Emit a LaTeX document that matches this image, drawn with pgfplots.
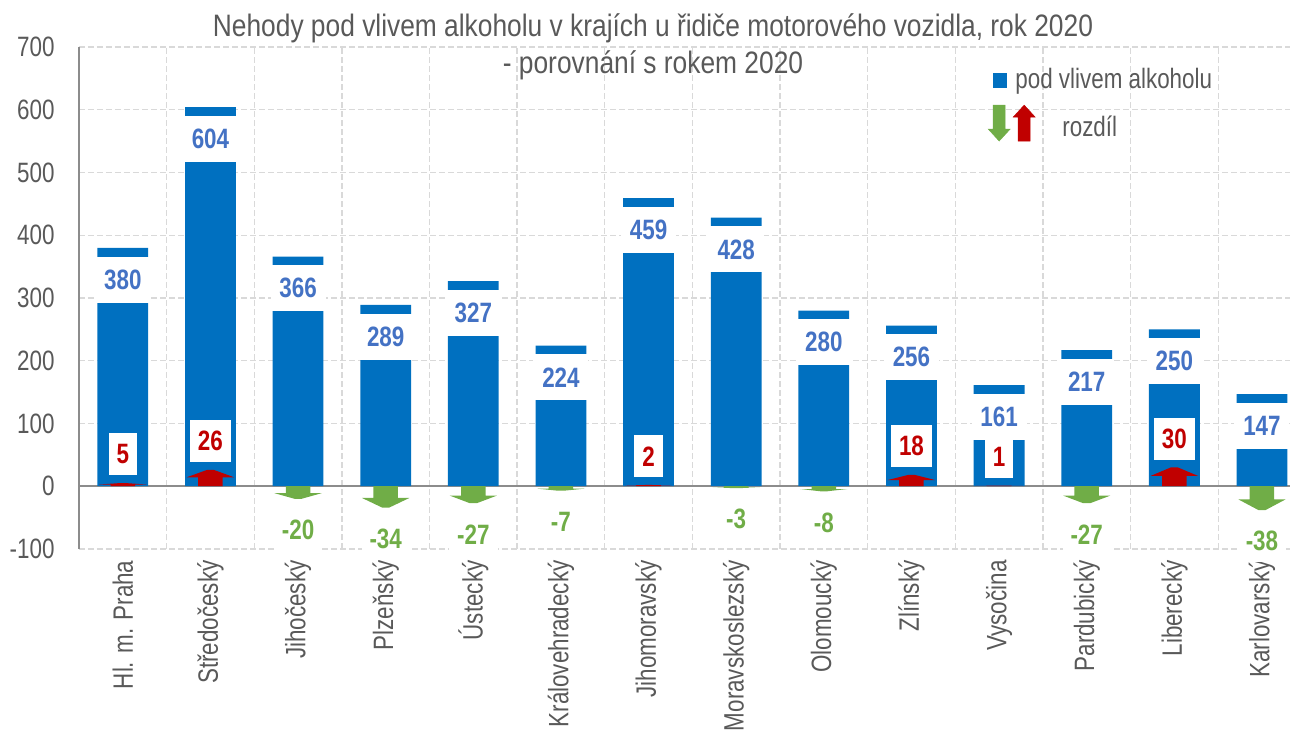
\documentclass[border=0pt]{standalone}
\usepackage{fontspec}
\setmainfont{Liberation Sans}[FakeStretch=0.8]
\newfontfamily\titlefont{Liberation Sans}[FakeStretch=0.85]
\usepackage{pgfplots}
\pgfplotsset{compat=1.18}
\usepackage{pgfplotstable}
\definecolor{barblue}{HTML}{0070C0}
\definecolor{labelblue}{HTML}{4472C4}
\definecolor{diffred}{HTML}{C00000}
\definecolor{diffgreen}{HTML}{70AD47}
\definecolor{textgray}{HTML}{595959}
\definecolor{gridgray}{HTML}{D9D9D9}
\definecolor{axisgray}{HTML}{8C8C8C}
\newcommand{\lf}{\fontsize{28}{32}\selectfont}
\newcommand{\bfl}{\bfseries\fontsize{28}{32}\selectfont}

\pgfplotstableread{
x val
0 380
1 604
2 366
3 289
4 327
5 224
6 459
7 428
8 280
9 256
10 161
11 217
12 250
13 147
}\valdata

\begin{document}
\begin{tikzpicture}
\useasboundingbox (-79pt,-181pt) rectangle (1211pt,549pt);
\begin{axis}[
  scale only axis, width=1211pt, height=502pt,
  xmin=-0.5, xmax=13.32, ymin=-100, ymax=700,
  clip=false,
  axis line style={draw=none},
  tick style={draw=none},
  /pgf/number format/assume math mode=true,
  ytick={-100,0,...,700},
  xtick={0,...,13},
  xticklabels={Hl. m. Praha, Středočeský, Jihočeský, Plzeňský, Ústecký, Královehradecký, Jihomoravský, Moravskoslezský, Olomoucký, Zlínský, Vysočina, Pardubický, Liberecký, Karlovarský},
  minor xtick={0.5,1.5,...,12.5},
  xminorgrids=true, ymajorgrids=true, xmajorgrids=false,
  grid style={gridgray, dash pattern=on 6pt off 3pt, line width=1.3pt},
  minor grid style={gridgray, dash pattern=on 6pt off 3pt, line width=1.3pt},
  extra y ticks={0}, extra y tick labels={},
  extra y tick style={ymajorgrids=true, major grid style={solid, draw=axisgray, line width=1.6pt}},
  extra x ticks={-0.5}, extra x tick labels={},
  extra x tick style={xmajorgrids=true, xminorgrids=false, major grid style={solid, draw=axisgray, line width=1.6pt}},
  yticklabel style={font=\lf, text=textgray, xshift=-21pt},
  xticklabel style={font=\lf, text=textgray, rotate=90, anchor=east},
  xticklabel shift=8pt,
  legend style={draw=none, fill=none, at={(0.7506,0.957)}, anchor=north west,
    inner sep=0pt, outer sep=0pt, row sep=16pt, column sep=0pt,
    font=\lf, text=textgray,
    cells={anchor=base west}, nodes={inner sep=0pt, text depth=0pt}},
]
% bars
\addplot[ybar, bar width=0.58, fill=barblue, draw=none, forget plot,
  nodes near coords,
  every node near coord/.append style={anchor=north, yshift=-8.5pt, fill=white,
    text=labelblue, font=\bfl, minimum width=55pt, minimum height=46pt, inner sep=0pt}]
  table[x=x, y=val]{\valdata};
% difference arrows
\addplot[fill=diffred, draw=none, forget plot] coordinates {(-0.14,0) (0.14,0) (0.14,2.75) (0.27,2.75) (0.04,5) (-0.04,5) (-0.27,2.75) (-0.14,2.75)};
\addplot[fill=diffred, draw=none, forget plot] coordinates {(0.86,0) (1.14,0) (1.14,14.3) (1.27,14.3) (1.04,26) (0.96,26) (0.73,14.3) (0.86,14.3)};
\addplot[fill=diffgreen, draw=none, forget plot] coordinates {(1.86,0) (2.14,0) (2.14,-11) (2.27,-11) (2.04,-20) (1.96,-20) (1.73,-11) (1.86,-11)};
\addplot[fill=diffgreen, draw=none, forget plot] coordinates {(2.86,0) (3.14,0) (3.14,-18.7) (3.27,-18.7) (3.04,-34) (2.96,-34) (2.73,-18.7) (2.86,-18.7)};
\addplot[fill=diffgreen, draw=none, forget plot] coordinates {(3.86,0) (4.14,0) (4.14,-14.85) (4.27,-14.85) (4.04,-27) (3.96,-27) (3.73,-14.85) (3.86,-14.85)};
\addplot[fill=diffgreen, draw=none, forget plot] coordinates {(4.86,0) (5.14,0) (5.14,-3.85) (5.27,-3.85) (5.04,-7) (4.96,-7) (4.73,-3.85) (4.86,-3.85)};
\addplot[fill=diffred, draw=none, forget plot] coordinates {(5.86,0) (6.14,0) (6.14,1.1) (6.27,1.1) (6.04,2) (5.96,2) (5.73,1.1) (5.86,1.1)};
\addplot[fill=diffgreen, draw=none, forget plot] coordinates {(6.86,0) (7.14,0) (7.14,-1.65) (7.27,-1.65) (7.04,-3) (6.96,-3) (6.73,-1.65) (6.86,-1.65)};
\addplot[fill=diffgreen, draw=none, forget plot] coordinates {(7.86,0) (8.14,0) (8.14,-4.4) (8.27,-4.4) (8.04,-8) (7.96,-8) (7.73,-4.4) (7.86,-4.4)};
\addplot[fill=diffred, draw=none, forget plot] coordinates {(8.86,0) (9.14,0) (9.14,9.9) (9.27,9.9) (9.04,18) (8.96,18) (8.73,9.9) (8.86,9.9)};
\addplot[fill=diffred, draw=none, forget plot] coordinates {(9.86,0) (10.14,0) (10.14,0.55) (10.27,0.55) (10.04,1) (9.96,1) (9.73,0.55) (9.86,0.55)};
\addplot[fill=diffgreen, draw=none, forget plot] coordinates {(10.86,0) (11.14,0) (11.14,-14.85) (11.27,-14.85) (11.04,-27) (10.96,-27) (10.73,-14.85) (10.86,-14.85)};
\addplot[fill=diffred, draw=none, forget plot] coordinates {(11.86,0) (12.14,0) (12.14,16.5) (12.27,16.5) (12.04,30) (11.96,30) (11.73,16.5) (11.86,16.5)};
\addplot[fill=diffgreen, draw=none, forget plot] coordinates {(12.86,0) (13.14,0) (13.14,-20.9) (13.27,-20.9) (13.04,-38) (12.96,-38) (12.73,-20.9) (12.86,-20.9)};
% difference labels
\addplot[draw=none, mark=none, forget plot, nodes near coords, point meta=explicit symbolic,
  every node near coord/.append style={anchor=south, yshift=7.5pt, fill=white, text=diffred,
    font=\bfl, minimum height=42pt, inner xsep=8pt, inner ysep=0pt}]
  coordinates {(0,5)[5] (1,26)[26] (6,2)[2] (9,18)[18] (10,1)[1] (12,30)[30]};
\addplot[draw=none, mark=none, forget plot, nodes near coords, point meta=explicit symbolic,
  every node near coord/.append style={anchor=north, yshift=-10pt, fill=white, text=diffgreen,
    font=\bfl, minimum height=42pt, inner xsep=8pt, inner ysep=0pt}]
  coordinates {(2,-20)[-20] (3,-34)[-34] (4,-27)[-27] (5,-7)[-7] (7,-3)[-3] (8,-8)[-8] (11,-27)[-27] (13,-38)[-38]};
% legend
\addlegendimage{legend image code/.code={\fill[barblue] (5pt,2pt) rectangle (18pt,16pt);}}
\addlegendentry{\hspace*{-20pt}pod vlivem alkoholu}
\addlegendimage{legend image code/.code={
  \fill[diffgreen] (5pt,31pt) -- (17pt,31pt) -- (17pt,7pt) -- (22pt,7pt) -- (11pt,-5pt) -- (0pt,7pt) -- (5pt,7pt) -- cycle;
  \fill[diffred] (30pt,-5pt) -- (42pt,-5pt) -- (42pt,19pt) -- (47pt,19pt) -- (36pt,31pt) -- (25pt,19pt) -- (30pt,19pt) -- cycle;}}
\addlegendentry{\hspace*{27pt}rozdíl}
\end{axis}
\node[font=\titlefont\fontsize{31}{37}\selectfont, text=textgray, align=center] at (574pt,502.5pt)
  {Nehody pod vlivem alkoholu v krajích u řidiče motorového vozidla, rok 2020\\- porovnání s rokem 2020};
\end{tikzpicture}
\end{document}
